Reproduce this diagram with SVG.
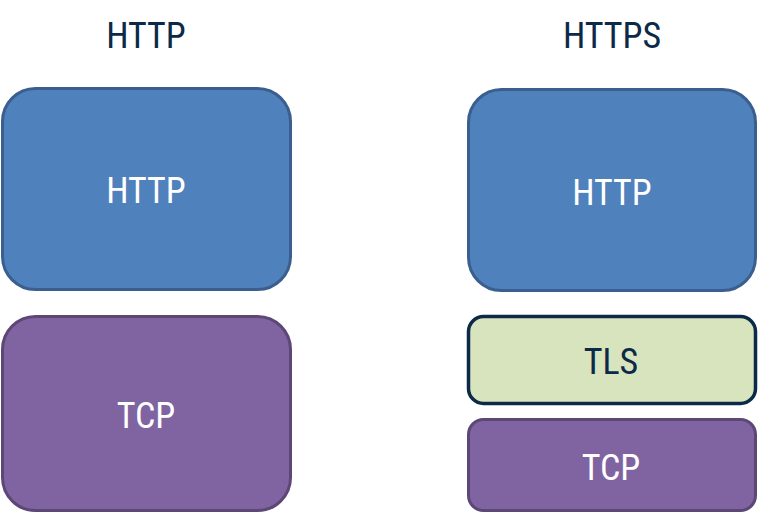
<svg xmlns="http://www.w3.org/2000/svg" width="758" height="513" viewBox="0 0 758 513">
<style>
text{font-family:"Liberation Sans Narrow","Roboto Condensed","Liberation Sans",Arial,sans-serif;font-size:36px;text-anchor:middle}
.title{fill:#0c2a47}
.w{fill:#ffffff}
.d{fill:#0c2a47}
.http{fill:#4f81bd;stroke:#3a5f8e;stroke-width:3}
.tcp{fill:#8064a2;stroke:#5c4777;stroke-width:3}
.tls{fill:#d7e4bd;stroke:#0c2a47;stroke-width:3.5}
</style>
<rect width="758" height="513" fill="#ffffff"/>
<g id="title-http"><text class="title" x="146" y="48">HTTP</text></g>
<g id="title-https"><text class="title" x="612" y="48">HTTPS</text></g>
<g id="left-http"><rect class="http" x="2.5" y="88.5" width="288" height="201" rx="33"/><text class="w" x="146" y="203">HTTP</text></g>
<g id="left-tcp"><rect class="tcp" x="2.5" y="316.5" width="288" height="194" rx="33"/><text class="w" x="146" y="428">TCP</text></g>
<g id="right-http"><rect class="http" x="468.5" y="89.5" width="287" height="201" rx="33"/><text class="w" x="612" y="205">HTTP</text></g>
<g id="right-tls"><rect class="tls" x="468.5" y="316.5" width="287" height="87" rx="15"/><text class="d" x="611" y="374">TLS</text></g>
<g id="right-tcp"><rect class="tcp" x="468.5" y="419.5" width="287" height="91" rx="15"/><text class="w" x="611" y="480">TCP</text></g>
<g id="connectors"></g>
</svg>
